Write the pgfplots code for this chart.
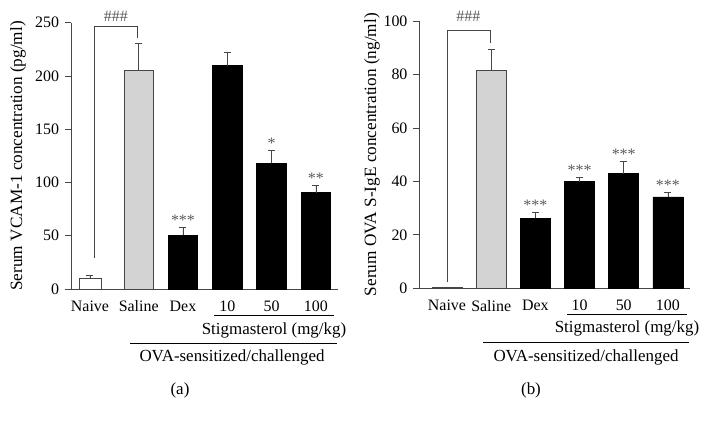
\documentclass[border=0pt]{standalone}
\usepackage{fontspec}
\setmainfont{Liberation Serif}
\usepackage{pgfplots}
\pgfplotsset{compat=1.18}
\definecolor{salgray}{RGB}{211,211,211}
\definecolor{axgray}{RGB}{70,70,70}
\definecolor{stargray}{RGB}{90,90,90}
\pgfplotsset{myax/.style={
  scale only axis, anchor=south west,
  axis lines*=left,
  axis line style={axgray, line width=0.8pt},
  ymin=0,
  xtick={-0.1,1,2,3,4,5},
  xticklabels={Naive,Saline,Dex,10,50,100},
  xtick style={draw=none},
  ytick style={axgray, line width=0.8pt},
  tick align=outside, major tick length=6bp,
  clip=false,
  /pgf/number format/assume math mode=true,
  tick label style={font=\fontsize{16}{19}\selectfont},
  label style={font=\fontsize{17.3}{20}\selectfont},
  ylabel style={anchor=center, rotate=0},
},
mybar/.style={ybar, bar shift=0pt, line width=0.7pt,
  error bars/y dir=plus, error bars/y explicit,
  error bars/error mark options={rotate=90, axgray, mark size=3.5bp, line width=0.7pt},
  error bars/error bar style={axgray, line width=0.7pt}}
}
\begin{document}
\fontsize{17}{20}\selectfont
\begin{tikzpicture}
\useasboundingbox (0,0) rectangle (709bp,422bp);
% ---------------- panel (a)
\begin{axis}[myax, at={(71bp,133bp)}, width=267bp, height=266.3bp,
  xmin=-0.528, xmax=5.5, ymax=250, ytick={0,50,100,150,200,250},
  ylabel={Serum VCAM-1 concentration (pg/ml)},
  ylabel style={at={(axis description cs:-0.1985,0.5)}}]
\addplot[mybar, bar width=0.5, fill=white, draw=axgray] table[x=x,y=y,y error=e]{
x y e
-0.1 10 3
};
\addplot[mybar, bar width=0.667, fill=salgray, draw=axgray] table[x=x,y=y,y error=e]{
x y e
1 205 26
};
\addplot[mybar, bar width=0.667, fill=black, draw=black] table[x=x,y=y,y error=e]{
x y e
2 50.5 7.5
3 209.5 13
4 118 12
5 90.5 7
};
\draw[axgray, line width=0.7pt] (axis cs:0,29) -- (axis cs:0,247) -- (axis cs:0.97,247) -- (axis cs:0.97,236);
\node[anchor=base, text=stargray, inner sep=0pt, font=\fontsize{16}{19}\selectfont] at ([yshift=4bp]axis cs:0.485,247) {\#\#\#};
\node[anchor=base, text=stargray, inner sep=0pt, font=\fontsize{16}{19}\selectfont] at ([yshift=2bp]axis cs:2,58) {***};
\node[anchor=base, text=stargray, inner sep=0pt, font=\fontsize{16}{19}\selectfont] at ([yshift=2bp]axis cs:4,130) {*};
\node[anchor=base, text=stargray, inner sep=0pt, font=\fontsize{16}{19}\selectfont] at ([yshift=2bp]axis cs:5,97.5) {**};
\end{axis}
% ---------------- panel (b)
\begin{axis}[myax, at={(419.3bp,133.7bp)}, width=270.7bp, height=267.3bp,
  xmin=-0.627, xmax=5.5, ymax=100, ytick={0,20,40,60,80,100},
  xtick={0,1,2,3,4,5},
  ylabel={Serum OVA S-IgE concentration (ng/ml)},
  ylabel style={at={(axis description cs:-0.175,0.5)}}]
\addplot[mybar, bar width=0.68, fill=white, draw=axgray] table[x=x,y=y,y error=e]{
x y e
0 0.3 0.2
};
\addplot[mybar, bar width=0.68, fill=salgray, draw=axgray] table[x=x,y=y,y error=e]{
x y e
1 81.7 7.7
};
\addplot[mybar, bar width=0.68, fill=black, draw=black] table[x=x,y=y,y error=e]{
x y e
2 26.2 2.2
3 39.9 1.7
4 42.9 4.6
5 34.2 1.6
};
\draw[axgray, line width=0.7pt] (axis cs:0,2.5) -- (axis cs:0,96.6) -- (axis cs:0.97,96.6) -- (axis cs:0.97,91.9);
\node[anchor=base, text=stargray, inner sep=0pt, font=\fontsize{16}{19}\selectfont] at ([yshift=9bp]axis cs:0.485,96.6) {\#\#\#};
\node[anchor=base, text=stargray, inner sep=0pt, font=\fontsize{16}{19}\selectfont] at ([yshift=2bp]axis cs:2,28.4) {***};
\node[anchor=base, text=stargray, inner sep=0pt, font=\fontsize{16}{19}\selectfont] at ([yshift=2bp]axis cs:3,41.6) {***};
\node[anchor=base, text=stargray, inner sep=0pt, font=\fontsize{16}{19}\selectfont] at ([yshift=2bp]axis cs:4,47.5) {***};
\node[anchor=base, text=stargray, inner sep=0pt, font=\fontsize{16}{19}\selectfont] at ([yshift=2bp]axis cs:5,35.8) {***};
\end{axis}
% ---------------- group annotations
\draw[black, line width=0.7pt] (214bp,107bp) -- (334bp,107bp);
\node at (274bp,92bp) {Stigmasterol (mg/kg)};
\draw[black, line width=0.7pt] (130bp,79bp) -- (337bp,79bp);
\node at (232bp,65bp) {OVA-sensitized/challenged};
\node at (180bp,32bp) {(a)};
\draw[black, line width=0.7pt] (567bp,108bp) -- (687bp,108bp);
\node at (627bp,94bp) {Stigmasterol (mg/kg)};
\draw[black, line width=0.7pt] (483bp,80bp) -- (689bp,80bp);
\node at (586bp,65bp) {OVA-sensitized/challenged};
\node at (531bp,32bp) {(b)};
\end{tikzpicture}
\end{document}
